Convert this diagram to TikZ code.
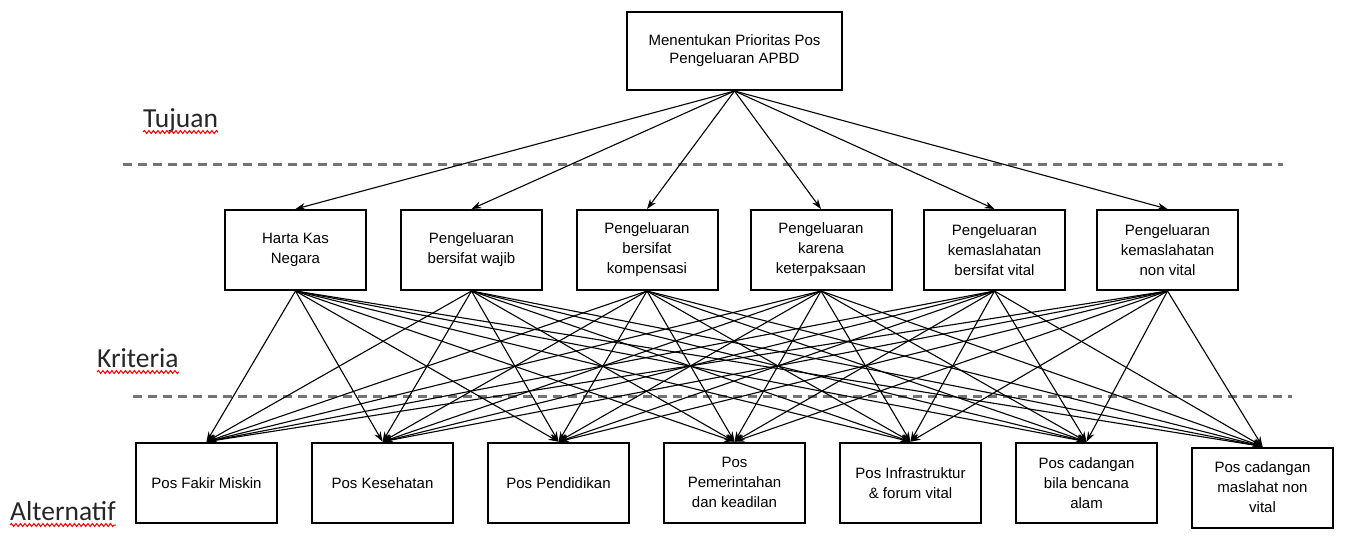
\documentclass[tikz,border=0pt]{standalone}
\usepackage{fontspec}
\setmainfont{Liberation Sans}
\newfontfamily\lblfont{Carlito}
\usetikzlibrary{arrows.meta,decorations.pathmorphing}

\begin{document}
\begin{tikzpicture}[x=1pt,y=-1pt,
  box/.style={draw,line width=2pt,minimum width=141pt,minimum height=80pt,inner sep=0pt,align=center,font=\fontsize{15}{20}\selectfont},
  link/.style={line width=1.1pt,-{Stealth[length=10pt,width=7pt]}},
  divider/.style={draw=black!55,line width=3pt,dash pattern=on 9pt off 6pt},
  lvl/.style={anchor=base west,inner sep=0pt,text=black!85,font=\lblfont\fontsize{27.5}{30}\selectfont},
  wavy/.style={red,line width=1pt,decorate,decoration={snake,amplitude=1.5pt,segment length=4.5pt}}]
\useasboundingbox (0,0) rectangle (1355,546);
\draw[divider] (123,164) -- (1283,164);
\draw[divider] (133,396) -- (1292,396);
\node[lvl] (tuj) at (143,127) {Tujuan};
\node[lvl] (kri) at (97,367) {Kriteria};
\node[lvl] (alt) at (10,520) {Alternatif};
\draw[wavy] ([yshift=-5pt]tuj.base west) -- ([yshift=-5pt]tuj.base east);
\draw[wavy] ([yshift=-5pt]kri.base west) -- ([yshift=-5pt]kri.base east);
\draw[wavy] ([yshift=-5pt]alt.base west) -- ([yshift=-5pt]alt.base east);
\node[box,minimum width=215pt,minimum height=78pt,font=\fontsize{15}{18}\selectfont] (goal) at (734.5,51) {Menentukan Prioritas Pos\\Pengeluaran APBD};
\node[box] (k1) at (295.5,250) {Harta Kas\\Negara};
\node[box] (k2) at (471.5,250) {Pengeluaran\\bersifat wajib};
\node[box] (k3) at (647,250) {Pengeluaran\\bersifat\\kompensasi};
\node[box] (k4) at (821,250) {Pengeluaran\\karena\\keterpaksaan};
\node[box] (k5) at (994.5,250) {Pengeluaran\\kemaslahatan\\bersifat vital};
\node[box] (k6) at (1167.5,250) {Pengeluaran\\kemaslahatan\\non vital};
\node[box] (a1) at (206.5,482.7) {Pos Fakir Miskin};
\node[box] (a2) at (382.5,482.7) {Pos Kesehatan};
\node[box] (a3) at (558.5,482.7) {Pos Pendidikan};
\node[box] (a4) at (734.5,482.7) {Pos\\Pemerintahan\\dan keadilan};
\node[box] (a5) at (910.5,482.7) {Pos Infrastruktur\\\& forum vital};
\node[box] (a6) at (1086.5,482.7) {Pos cadangan\\bila bencana\\alam};
\node[box] (a7) at (1262.5,487.5) {Pos cadangan\\maslahat non\\vital};
\foreach \k in {1,...,6}
  \draw[link] (goal.south) -- (k\k.north);
\foreach \k in {1,...,6}
  \foreach \a in {1,...,7}
    \draw[link] (k\k.south) -- (a\a.north);
\end{tikzpicture}
\end{document}
